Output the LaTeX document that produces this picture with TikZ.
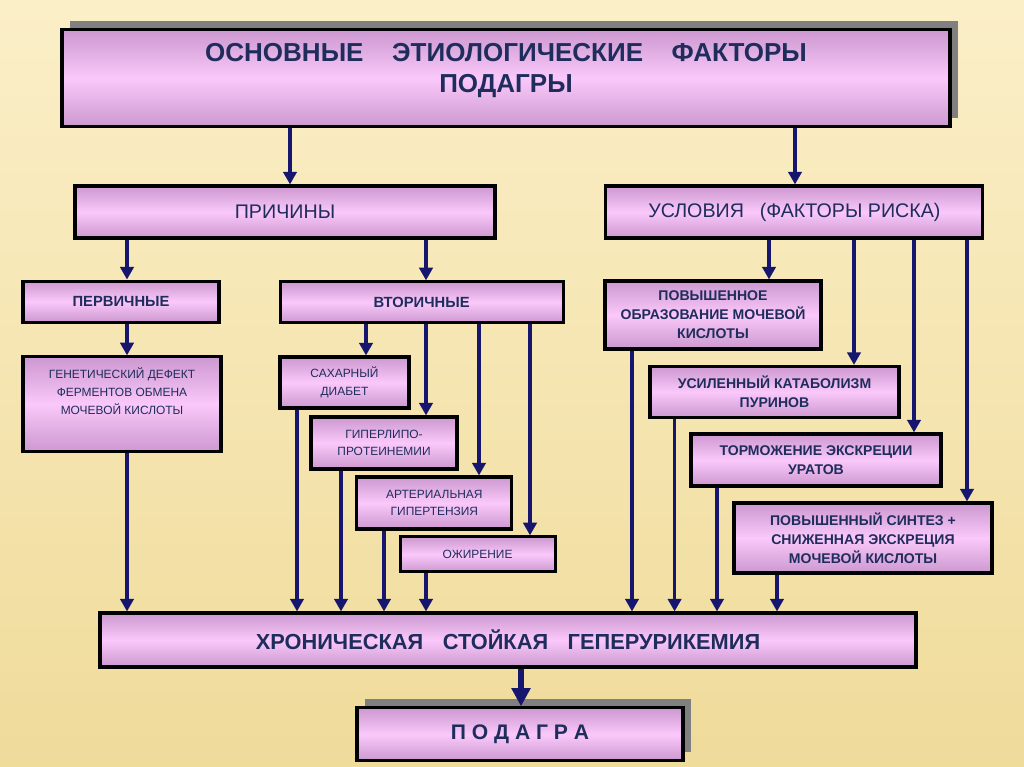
\documentclass[tikz,border=0pt]{standalone}
\usepackage{fontspec}
\setmainfont{Liberation Sans}
\usetikzlibrary{arrows.meta,shadows}

\begin{document}
\begin{tikzpicture}
  \definecolor{fon1}{RGB}{251,239,200}
  \definecolor{fon2}{RGB}{239,219,154}
  \definecolor{rama}{RGB}{204,152,208}
  \definecolor{seredina}{RGB}{250,200,250}
  \definecolor{tekst}{RGB}{31,45,92}
  \definecolor{strelka}{RGB}{22,22,110}
  \definecolor{ten}{RGB}{128,128,128}
  \tikzstyle{blk}=[draw=black, line width=2.2pt, top color=rama, bottom color=rama, middle color=seredina, align=center, text=tekst, inner sep=2pt]
  \tikzstyle{sh}=[drop shadow={shadow xshift=0.2cm, shadow yshift=0.22cm, fill=ten, opacity=1}]
  \tikzstyle{arr}=[-{Triangle[width=9.5pt,length=9pt]}, line width=2.3pt, draw=strelka]
  \tikzstyle{bigarr}=[-{Triangle[width=13pt,length=13pt]}, line width=3.6pt, draw=strelka]
  \tikzstyle{melk}=[font=\fontsize{8.5}{12.5}\selectfont]
  \tikzstyle{prav}=[font=\bfseries\fontsize{10}{13.5}\selectfont]

  % Fon slajda, 25,6 x 19,175 cm
  \fill[top color=fon1, bottom color=fon2] (0,0) rectangle (25.6,-19.175);
  \useasboundingbox (0,0) rectangle (25.6,-19.175);

  % Zagolovok
  \node[blk, sh, minimum width=22.2cm, minimum height=2.425cm, font=\bfseries\fontsize{18.5}{22.5}\selectfont] (zag) at (12.65,-1.96)
    {ОСНОВНЫЕ\hspace{1.1em}ЭТИОЛОГИЧЕСКИЕ\hspace{1.1em}ФАКТОРЫ\\ПОДАГРЫ\\[-7.5pt]\mbox{}};

  % Prichiny i usloviya
  \node[blk, minimum width=10.5cm, minimum height=1.3cm, font=\fontsize{14}{17}\selectfont] (prich) at (7.125,-5.3) {ПРИЧИНЫ};
  \node[blk, minimum width=9.425cm, minimum height=1.3cm, font=\fontsize{14}{17}\selectfont] (uslov) at (19.86,-5.3) {УСЛОВИЯ\hspace{0.8em}(ФАКТОРЫ РИСКА)};

  \draw[arr] (zag.south -| 7.25,0) -- (prich.north -| 7.25,0);
  \draw[arr] (zag.south -| 19.875,0) -- (uslov.north -| 19.875,0);

  % Levaya vetv
  \node[blk, minimum width=4.9cm, minimum height=1.025cm, font=\bfseries\fontsize{10.5}{13}\selectfont] (perv) at (3.025,-7.54) {ПЕРВИЧНЫЕ};
  \node[blk, minimum width=7.075cm, minimum height=1.025cm, font=\bfseries\fontsize{10.5}{13}\selectfont] (vtor) at (10.54,-7.56) {ВТОРИЧНЫЕ};
  \node[blk, melk, minimum width=4.95cm, minimum height=2.375cm] (genet) at (3.05,-10.11)
    {ГЕНЕТИЧЕСКИЙ ДЕФЕКТ\\ФЕРМЕНТОВ ОБМЕНА\\МОЧЕВОЙ КИСЛОТЫ\\[6.5pt]\mbox{}};
  \node[blk, melk, minimum width=3.225cm, minimum height=1.275cm] (sahar) at (8.6125,-9.5625) {САХАРНЫЙ\\ДИАБЕТ};
  \node[blk, melk, minimum width=3.65cm, minimum height=1.3cm] (giper) at (9.6,-11.075) {ГИПЕРЛИПО-\\ПРОТЕИНЕМИИ};
  \node[blk, melk, minimum width=3.875cm, minimum height=1.3cm] (arter) at (10.86,-12.575) {АРТЕРИАЛЬНАЯ\\ГИПЕРТЕНЗИЯ};
  \node[blk, melk, minimum width=3.875cm, minimum height=0.875cm] (ozhir) at (11.94,-13.86) {ОЖИРЕНИЕ};

  \draw[arr] (prich.south -| 3.175,0) -- (perv.north -| 3.175,0);
  \draw[arr] (prich.south -| 10.65,0) -- (vtor.north -| 10.65,0);
  \draw[arr] (perv.south -| 3.175,0) -- (genet.north -| 3.175,0);
  \draw[arr] (vtor.south -| 9.15,0) -- (sahar.north -| 9.15,0);
  \draw[arr] (vtor.south -| 10.65,0) -- (giper.north -| 10.65,0);
  \draw[arr] (vtor.south -| 11.975,0) -- (arter.north -| 11.975,0);
  \draw[arr] (vtor.south -| 13.25,0) -- (ozhir.north -| 13.25,0);

  % Pravaya vetv, faktory riska
  \node[blk, prav, minimum width=5.4cm, minimum height=1.7cm] (povobr) at (17.825,-7.875) {ПОВЫШЕННОЕ\\ОБРАЗОВАНИЕ МОЧЕВОЙ\\КИСЛОТЫ};
  \node[blk, prav, minimum width=6.225cm, minimum height=1.275cm] (usil) at (19.3625,-9.8) {УСИЛЕННЫЙ КАТАБОЛИЗМ\\ПУРИНОВ};
  \node[blk, prav, minimum width=6.25cm, minimum height=1.3cm] (torm) at (20.4,-11.5) {ТОРМОЖЕНИЕ ЭКСКРЕЦИИ\\УРАТОВ};
  \node[blk, prav, minimum width=6.45cm, minimum height=1.75cm] (sint) at (21.575,-13.45) {ПОВЫШЕННЫЙ СИНТЕЗ +\\СНИЖЕННАЯ ЭКСКРЕЦИЯ\\МОЧЕВОЙ КИСЛОТЫ};

  \draw[arr] (uslov.south -| 19.225,0) -- (povobr.north -| 19.225,0);
  \draw[arr] (uslov.south -| 21.35,0) -- (usil.north -| 21.35,0);
  \draw[arr] (uslov.south -| 22.85,0) -- (torm.north -| 22.85,0);
  \draw[arr] (uslov.south -| 24.175,0) -- (sint.north -| 24.175,0);

  % Itog
  \node[blk, minimum width=20.4cm, minimum height=1.35cm, font=\bfseries\fontsize{15.5}{18}\selectfont] (hron) at (12.7,-16.0)
    {ХРОНИЧЕСКАЯ\hspace{0.9em}СТОЙКАЯ\hspace{0.9em}ГЕПЕРУРИКЕМИЯ};
  \node[blk, sh, minimum width=8.15cm, minimum height=1.325cm, font=\bfseries\fontsize{15}{18}\selectfont] (podagra) at (13.0,-18.36) {П О Д А Г Р А};

  \draw[arr] (genet.south -| 3.175,0) -- (hron.north -| 3.175,0);
  \draw[arr] (sahar.south -| 7.425,0) -- (hron.north -| 7.425,0);
  \draw[arr] (giper.south -| 8.525,0) -- (hron.north -| 8.525,0);
  \draw[arr] (arter.south -| 9.6,0) -- (hron.north -| 9.6,0);
  \draw[arr] (ozhir.south -| 10.65,0) -- (hron.north -| 10.65,0);
  \draw[arr] (povobr.south -| 15.8,0) -- (hron.north -| 15.8,0);
  \draw[arr] (usil.south -| 16.865,0) -- (hron.north -| 16.865,0);
  \draw[arr] (torm.south -| 17.925,0) -- (hron.north -| 17.925,0);
  \draw[arr] (sint.south -| 19.425,0) -- (hron.north -| 19.425,0);
  \draw[bigarr] (hron.south -| 13.025,0) -- (podagra.north -| 13.025,0);
\end{tikzpicture}
\end{document}
